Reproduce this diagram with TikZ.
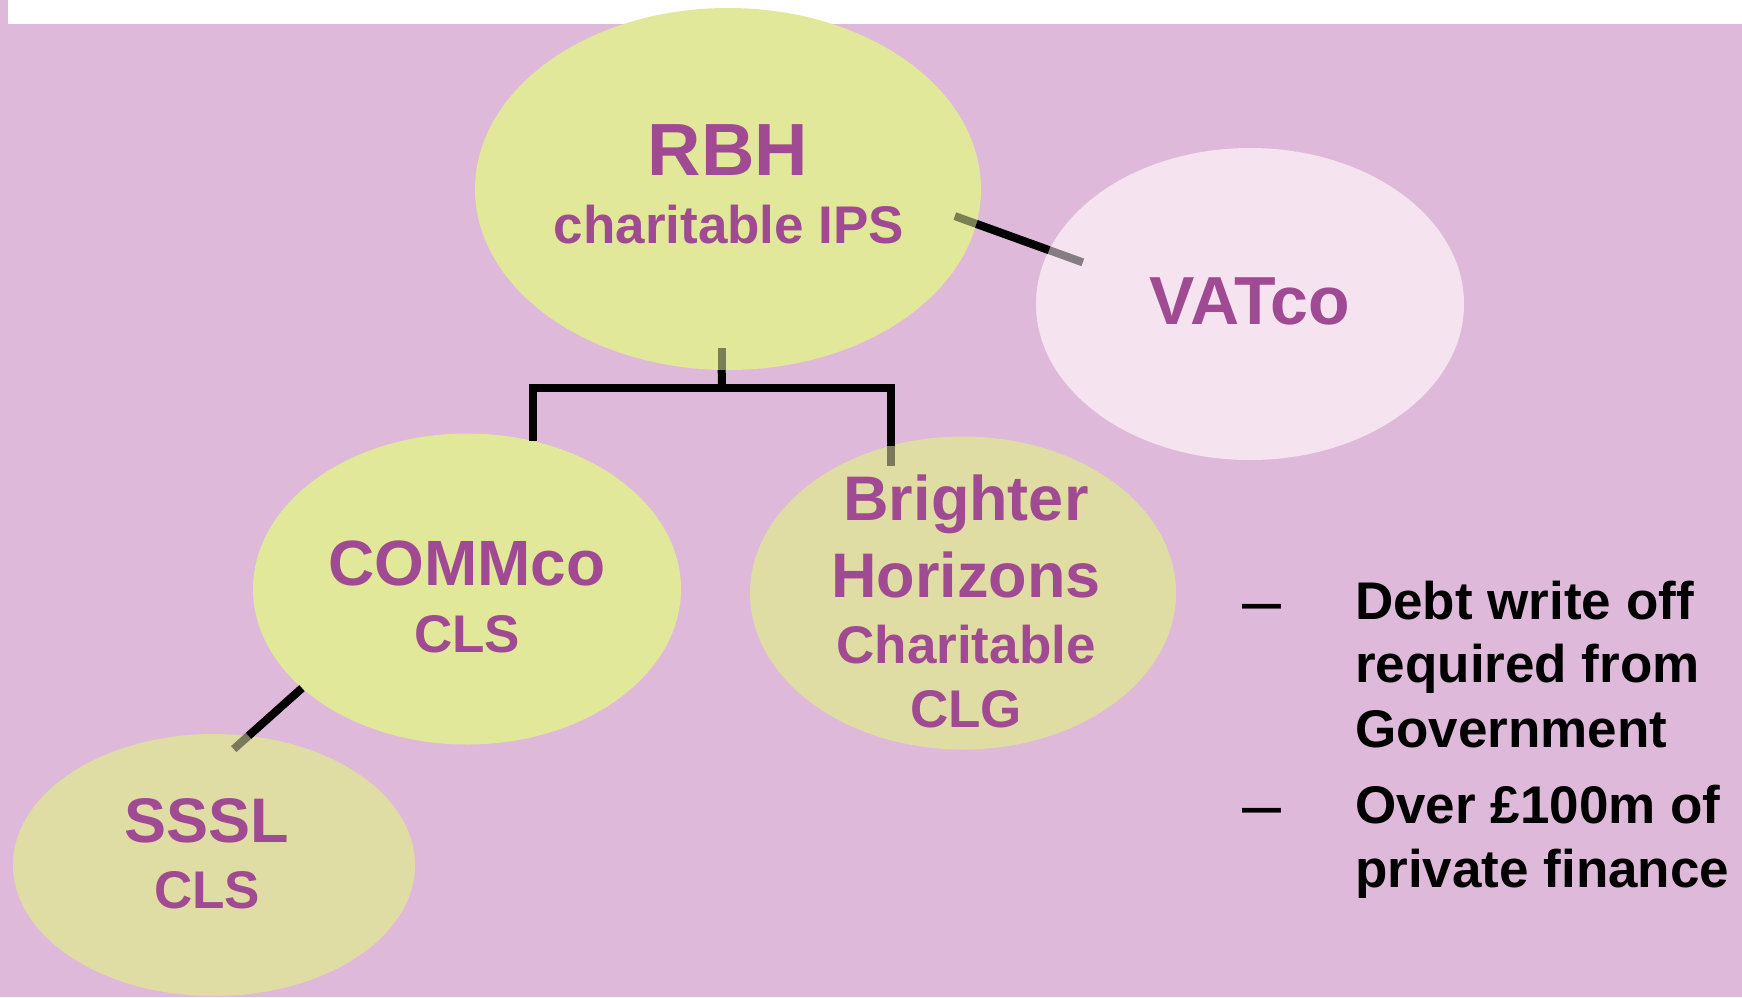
\documentclass[tikz,border=0pt]{standalone}
\usepackage{fontspec}
\setmainfont{Liberation Sans}
\usetikzlibrary{shapes.geometric}
\definecolor{bgpink}{RGB}{223,185,217}
\definecolor{lime}{RGB}{225,232,153}
\definecolor{dlime}{RGB}{224,221,164}
\definecolor{vatpink}{RGB}{245,228,240}
\definecolor{txtpurple}{RGB}{160,74,147}
\tikzset{
  blob/.style={ellipse, inner sep=0pt, draw=none},
  lbl/.style={inner sep=0pt, anchor=base, text=txtpurple, font=\bfseries},
  blt/.style={inner sep=0pt, anchor=base west, text=black, font=\bfseries\fontsize{53}{53}\selectfont},
  dsh/.style={inner sep=0pt, anchor=base west, text=black, font=\fontsize{70}{70}\selectfont},
  conn/.style={line width=8pt, draw=black, line join=miter},
  connext/.style={line width=8pt, draw=black, opacity=0.45}
}
\begin{document}
\begin{tikzpicture}[x=1pt,y=-1pt]
\useasboundingbox (0,0) rectangle (1742,997);
\fill[bgpink] (0,0) rectangle (1742,997);
\fill[white] (8,0) rectangle (1742,24);

% ellipses
\node[blob, fill=lime, minimum width=506pt, minimum height=362pt] (rbh) at (728,189) {};
\node[blob, fill=vatpink, minimum width=428pt, minimum height=312pt] (vat) at (1250,304) {};
\node[blob, fill=lime, minimum width=428pt, minimum height=311pt] (comm) at (467,589) {};
\node[blob, fill=dlime, minimum width=426pt, minimum height=313pt] (bh) at (963,593) {};
\node[blob, fill=dlime, minimum width=402pt, minimum height=262pt] (sssl) at (214,865) {};

% labels
\node[lbl, font=\bfseries\fontsize{74}{74}\selectfont] (rbhA) at (728,175) {RBH};
\node[lbl, font=\bfseries\fontsize{53}{53}\selectfont] (rbhB) at (729,243) {charitable IPS};
\node[lbl, font=\bfseries\fontsize{68}{68}\selectfont] (vatA) at (1250,324) {VATco};
\node[lbl, font=\bfseries\fontsize{64}{64}\selectfont] (commA) at (467,585) {COMMco};
\node[lbl, font=\bfseries\fontsize{53}{53}\selectfont] (commB) at (467,652) {CLS};
\node[lbl, font=\bfseries\fontsize{63}{63}\selectfont] (bhA) at (966,520) {Brighter};
\node[lbl, font=\bfseries\fontsize{63}{63}\selectfont] (bhB) at (966,597) {Horizons};
\node[lbl, font=\bfseries\fontsize{53}{53}\selectfont] (bhC) at (966,663) {Charitable};
\node[lbl, font=\bfseries\fontsize{53}{53}\selectfont] (bhD) at (966,727) {CLG};
\node[lbl, font=\bfseries\fontsize{63}{63}\selectfont] (ssslA) at (207,842) {SSSL};
\node[lbl, font=\bfseries\fontsize{53}{53}\selectfont] (ssslB) at (207,908) {CLS};

% connectors
\coordinate (bar) at (722,388);
\draw[connext] (rbh.268.6) -- ++(0,-22);
\draw[connext] (bh.116.4) -- ++(0,20);
\draw[conn] (rbh.268.6) -- (bar);
\draw[conn] (comm.66.7) |- (bar) -| (bh.116.4);

\draw[connext, shorten <=-23pt, shorten >=-36pt] (rbh.-8.75) -- (vat.165.6);
\draw[conn] (rbh.-8.75) -- (vat.165.6);

\draw[connext, shorten >=-20pt] (comm.211.2) -- (sssl.75.3);
\draw[conn] (comm.211.2) -- (sssl.75.3);

% bullets
\node[dsh] (d1) at (1242,624) {–};
\node[blt] (t1) at (1355,619) {Debt write off};
\node[blt] (t2) at (1355,682) {required from};
\node[blt] (t3) at (1355,747) {Government};
\node[dsh] (d2) at (1242,828) {–};
\node[blt] (t4) at (1355,823) {Over £100m of};
\node[blt] (t5) at (1355,887) {private finance};
\end{tikzpicture}
\end{document}
